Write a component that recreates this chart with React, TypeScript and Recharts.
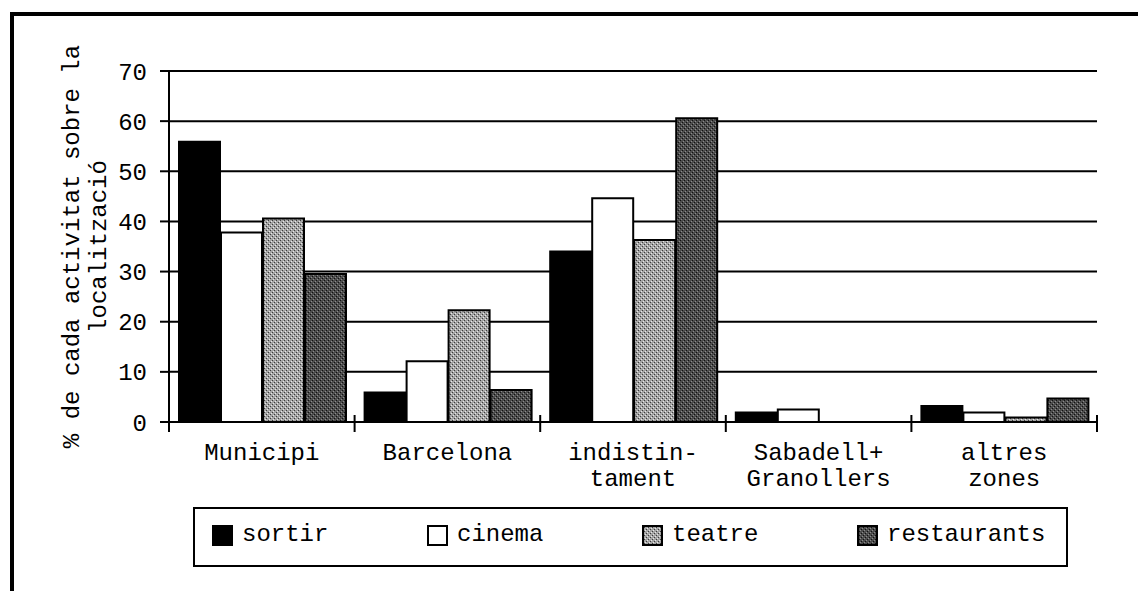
import { Bar, BarChart, CartesianGrid, Legend, XAxis, YAxis } from 'recharts'

const FONT = '"Liberation Mono", "Courier New", monospace'

const categories = ['Municipi', 'Barcelona', 'indistin-\ntament', 'Sabadell+\nGranollers', 'altres\nzones']
const sortir = [55.9, 5.9, 34.0, 1.9, 3.2]
const cinema = [37.8, 12.1, 44.6, 2.5, 1.9]
const teatre = [40.6, 22.3, 36.3, 0, 0.9]
const restaurants = [29.5, 6.4, 60.6, 0, 4.7]
const yTicks = [0, 10, 20, 30, 40, 50, 60, 70]

const seriesKeys = ['sortir', 'cinema', 'teatre', 'restaurants']
const seriesFills = ['#000000', '#ffffff', 'url(#pat-teatre)', 'url(#pat-rest)']

const rows = categories.map((name, i) => ({
  name,
  sortir: sortir[i],
  cinema: cinema[i],
  teatre: teatre[i],
  restaurants: restaurants[i],
}))

function Patterns() {
  return (
    <svg width={0} height={0} style={{ position: 'absolute' }}>
      <defs>
        <pattern id="pat-teatre" width={4} height={4} patternUnits="userSpaceOnUse">
          <rect width={4} height={4} fill="#a4a4a4" />
          <rect x={0} y={0} width={1} height={1} fill="#3c3c3c" />
          <rect x={2} y={2} width={1} height={1} fill="#3c3c3c" />
          <rect x={1} y={3} width={1} height={1} fill="#e8e8e8" />
          <rect x={3} y={1} width={1} height={1} fill="#e8e8e8" />
        </pattern>
        <pattern id="pat-rest" width={4} height={4} patternUnits="userSpaceOnUse">
          <rect width={4} height={4} fill="#4c4c4c" />
          <rect x={0} y={0} width={1} height={1} fill="#111" />
          <rect x={2} y={2} width={1} height={1} fill="#111" />
          <rect x={1} y={3} width={1} height={1} fill="#8c8c8c" />
          <rect x={3} y={1} width={1} height={1} fill="#8c8c8c" />
        </pattern>
      </defs>
    </svg>
  )
}

function CategoryTick(props: any) {
  const { x, y, payload, index } = props
  const half = payload?.offset || 92.8
  const lines = String(payload.value).split('\n')
  const last = index === categories.length - 1
  return (
    <g>
      <line x1={x - half} x2={x - half} y1={y - 7} y2={y + 10} stroke="#000" strokeWidth={2} />
      {last ? <line x1={x + half} x2={x + half} y1={y - 7} y2={y + 10} stroke="#000" strokeWidth={2} /> : null}
      <text textAnchor="middle" fontFamily={FONT} fontSize={24} fill="#000">
        {lines.map((line, i) => (
          <tspan key={i} x={x} y={y + 38 + i * 26}>
            {line}
          </tspan>
        ))}
      </text>
    </g>
  )
}

function YLabel(props: any) {
  const vb = props.viewBox ?? { y: 71, height: 351 }
  const cy = vb.y + vb.height / 2
  return (
    <g fontFamily={FONT} fontSize={24} fill="#000">
      <text x={72} y={cy} transform={`rotate(-90 72 ${cy})`} textAnchor="middle" dominantBaseline="central">
        % de cada activitat sobre la
      </text>
      <text x={99} y={cy} transform={`rotate(-90 99 ${cy})`} textAnchor="middle" dominantBaseline="central">
        localització
      </text>
    </g>
  )
}

function LegendBox() {
  return (
    <div
      style={{
        width: '100%',
        height: '100%',
        boxSizing: 'border-box',
        border: '2px solid #000',
        background: '#fff',
        position: 'relative',
      }}
    >
      {seriesKeys.map((key, i) => (
        <div
          key={key}
          style={{ position: 'absolute', left: 17 + i * 215, top: 12, height: 28, display: 'flex', alignItems: 'center' }}
        >
          <svg width={21} height={21} style={{ marginRight: 9 }}>
            <rect x={1} y={1} width={19} height={19} fill={seriesFills[i]} stroke="#000" strokeWidth={2} />
          </svg>
          <span style={{ fontFamily: FONT, fontSize: 24, color: '#000', lineHeight: '28px' }}>{key}</span>
        </div>
      ))}
    </div>
  )
}

export default function App() {
  return (
    <div style={{ position: 'absolute', left: 0, top: 0, width: 1138, height: 591, background: '#fff' }}>
      <Patterns />
      <div style={{ position: 'absolute', left: 10, top: 12, width: 4, height: 579, background: '#000' }} />
      <div style={{ position: 'absolute', left: 10, top: 12, width: 1128, height: 4, background: '#000' }} />
      <BarChart
        width={1138}
        height={591}
        data={rows}
        margin={{ top: 71, right: 41, bottom: 0, left: 0 }}
        barCategoryGap={10}
        barGap={1}
      >
        <CartesianGrid vertical={false} stroke="#000" strokeWidth={2} />
        <XAxis
          dataKey="name"
          height={169}
          interval={0}
          tickSize={0}
          tickMargin={0}
          tickLine={false}
          axisLine={{ stroke: '#000', strokeWidth: 2 }}
          tick={<CategoryTick />}
        />
        <YAxis
          width={169}
          domain={[0, 70]}
          ticks={yTicks}
          interval={0}
          tickSize={9}
          tickMargin={13}
          tickLine={{ stroke: '#000', strokeWidth: 2 }}
          axisLine={{ stroke: '#000', strokeWidth: 2 }}
          tick={{ fill: '#000', fontSize: 24, fontFamily: FONT }}
          label={<YLabel />}
        />
        <Legend
          verticalAlign="middle"
          layout="horizontal"
          content={<LegendBox />}
          wrapperStyle={{ left: 193, top: 507, width: 875, height: 60 }}
        />
        {seriesKeys.map((key, i) => (
          <Bar key={key} dataKey={key} fill={seriesFills[i]} stroke="#000" strokeWidth={2} isAnimationActive={false} />
        ))}
      </BarChart>
    </div>
  )
}
